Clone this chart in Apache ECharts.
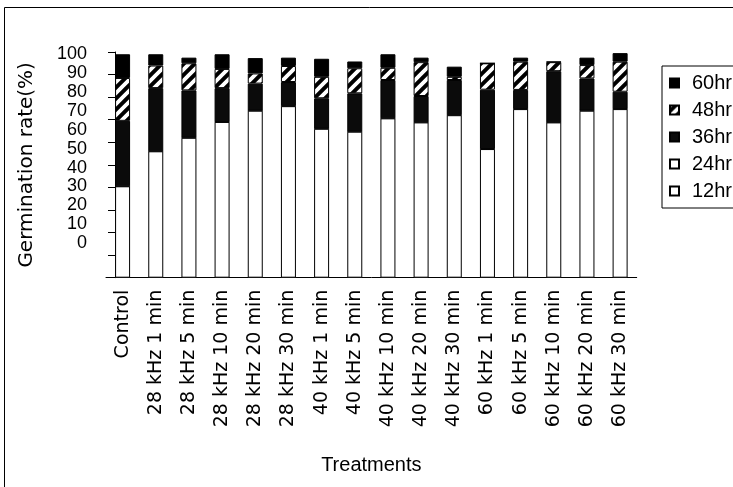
<!DOCTYPE html>
<html><head><meta charset="utf-8">
<script src="https://cdn.jsdelivr.net/npm/echarts@6/dist/echarts.min.js"></script>
<style>html,body{margin:0;padding:0;background:#fff}#c{width:733px;height:487px}</style>
</head><body><div id="c"></div>
<script>
// ---- data ----
const categories = ['Control','28 kHz 1 min','28 kHz 5 min','28 kHz 10 min','28 kHz 20 min','28 kHz 30 min',
  '40 kHz 1 min','40 kHz 5 min','40 kHz 10 min','40 kHz 20 min','40 kHz 30 min',
  '60 kHz 1 min','60 kHz 5 min','60 kHz 10 min','60 kHz 20 min','60 kHz 30 min'];
const seriesNames = ['12hr','24hr','36hr','48hr','60hr'];
const hr12 = [40.5,56,62,69,74,76,66,64.7,70.6,68.8,72,57,74.7,68.8,74,74.7];
const hr24 = [0,0,0,0,0,0,0,0,0,0,0,0,0,0,0,0];
const hr36 = [29,28,21,15,12,10.7,13.5,17,17,11.7,15.6,26.3,8.5,22.7,14.3,7.7];
const hr48 = [19,10,12,8.5,4.5,7.1,9.5,11.1,5.4,15,1.4,11.7,12.5,4,5.9,13.3];
const hr60 = [10.5,5,2.5,6.5,6.8,3.7,8,3,6,2,4.5,0,1.8,0.2,3.3,3.8];
const yMin = 0, yMax = 100, yStep = 10;
const yTitle = 'Germination rate(%)';
const xTitle = 'Treatments';

// hatch pattern for 48hr
function hatch(){
  const n = 11, c = document.createElement('canvas');
  c.width = n; c.height = n;
  const g = c.getContext('2d');
  g.fillStyle = '#000'; g.fillRect(0,0,n,n);
  g.strokeStyle = '#fff'; g.lineWidth = 3.8;
  g.beginPath();
  g.moveTo(-2,2); g.lineTo(2,-2);
  g.moveTo(0,n); g.lineTo(n,0);
  g.moveTo(n-2,n+2); g.lineTo(n+2,n-2);
  g.stroke();
  return {image:c, repeat:'repeat'};
}

const values = [hr12, hr24, hr36, hr48, hr60];
const styles = [
  {color:'#fff', borderColor:'#000', borderWidth:1},
  {color:'#fff', borderColor:'#000', borderWidth:1, borderType:'dotted'},
  {color:'#0b0b0b', borderColor:'#000', borderWidth:1},
  {color:hatch(), borderColor:'#000', borderWidth:1},
  {color:'#000', borderColor:'#000', borderWidth:1}
];

const chart = echarts.init(document.getElementById('c'), null, {renderer:'canvas'});
const sansH = 'Liberation Sans, Arial, sans-serif';
const sansV = 'DejaVu Sans, sans-serif';

chart.setOption({
  backgroundColor:'#fff',
  animation:false,
  graphic:[{type:'rect', silent:true, shape:{x:4.5,y:7.5,width:800,height:600},
    style:{fill:'none', stroke:'#000', lineWidth:1}}],
  legend:{
    orient:'vertical', left:662, top:66,
    padding:[7,14,7,7], itemGap:7, itemWidth:9, itemHeight:9,
    icon:'rect',
    borderColor:'#000', borderWidth:1, borderRadius:0,
    data:seriesNames.slice().reverse(),
    formatter: nm => '{t|' + nm + '}',
    textStyle:{fontFamily:sansH, fontSize:20, color:'#000',
      rich:{t:{fontFamily:sansH, fontSize:20, color:'#000', padding:[0,0,0,8]}}}
  },
  grid:[
    {left:106, right:96.3, top:52, bottom:209.3, outerBoundsMode:'none', containLabel:false},
    {left:115, width:10, top:54, height:189.3, outerBoundsMode:'none', containLabel:false}
  ],
  xAxis:[
    {type:'category', gridIndex:0, data:categories,
     axisLine:{lineStyle:{color:'#000', width:1}},
     axisTick:{inside:true, length:6, lineStyle:{color:'#000'}},
     axisLabel:{interval:0, rotate:90, margin:12, fontFamily:sansV, fontSize:19, color:'#000'},
     name:xTitle, nameLocation:'middle', nameGap:178,
     nameTextStyle:{fontFamily:sansH, fontSize:20, color:'#000'}},
    {type:'value', gridIndex:1, show:false, min:0, max:1}
  ],
  yAxis:[
    {type:'value', gridIndex:0, min:yMin, max:yMax, interval:yStep, offset:-9,
     axisLine:{show:true, lineStyle:{color:'#000', width:1}},
     axisTick:{show:true, length:7, lineStyle:{color:'#000'}},
     axisLabel:{show:false}, splitLine:{show:false},
     name:yTitle, nameLocation:'middle', nameGap:78,
     nameTextStyle:{fontFamily:sansV, fontSize:20, color:'#000'}},
    {type:'value', gridIndex:1, min:yMin, max:yMax, interval:yStep,
     axisLine:{show:false}, axisTick:{show:false}, splitLine:{show:false},
     axisLabel:{margin:28, fontFamily:sansH, fontSize:18, lineHeight:14, color:'#000',
       showMinLabel:true, showMaxLabel:true, hideOverlap:false}}
  ],
  series: seriesNames.map((nm,i)=>({
    name:nm, type:'bar', stack:'t', xAxisIndex:0, yAxisIndex:0,
    barWidth:15, data:values[i], itemStyle:styles[i]
  }))
});
</script></body></html>
